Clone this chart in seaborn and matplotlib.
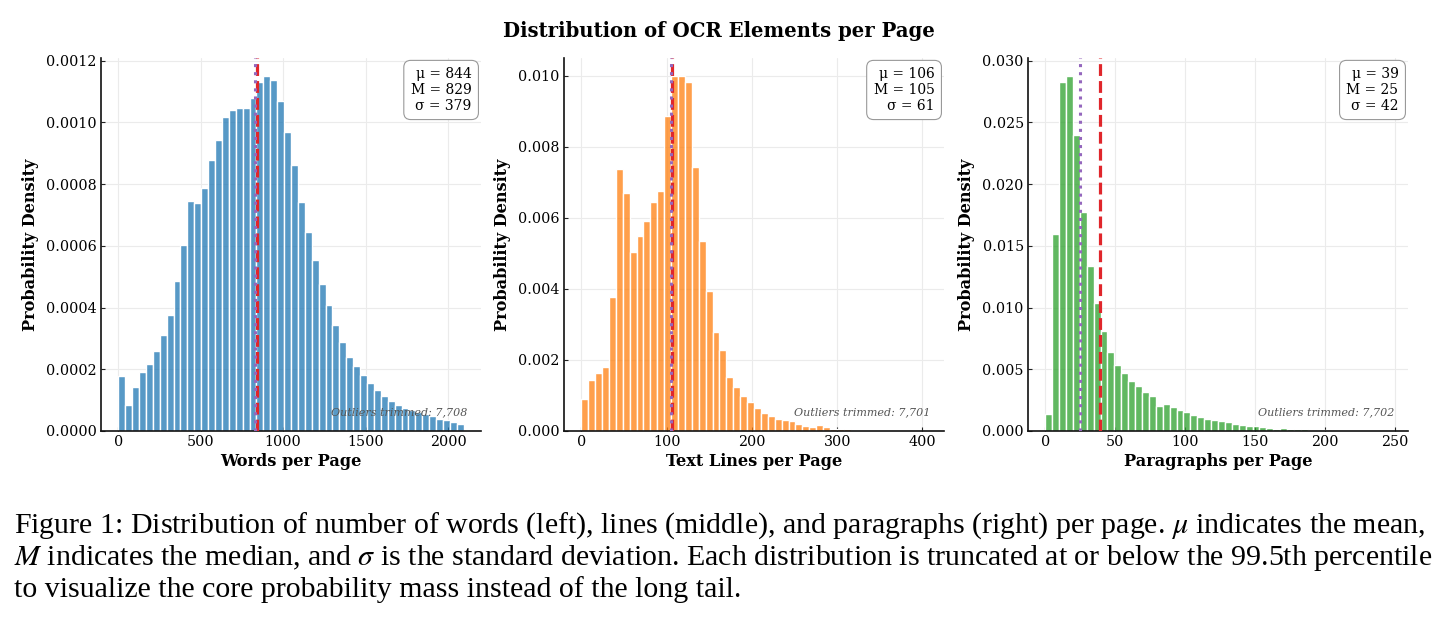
import numpy as np
import pandas as pd
import matplotlib
matplotlib.use("Agg")
import matplotlib.pyplot as plt
import seaborn as sns

# histogram densities (50 bins per panel)
words_density = [0.000179, 0.0000845, 0.000143, 0.000192, 0.000217, 0.000259, 0.000311, 0.000377,
                 0.000486, 0.000602, 0.000745, 0.000739, 0.000787, 0.000878, 0.000943, 0.001016,
                 0.001041, 0.001046, 0.001046, 0.001079, 0.00113, 0.001151, 0.001138, 0.00107,
                 0.00097, 0.000862, 0.000743, 0.000645, 0.000553, 0.000475, 0.000409, 0.000344,
                 0.000289, 0.000241, 0.00021, 0.000181, 0.000156, 0.000133, 0.000114, 0.0000976,
                 0.0000846, 0.0000759, 0.0000672, 0.0000618, 0.0000564, 0.0000488, 0.0000401,
                 0.0000347, 0.0000282, 0.0000238]
lines_density = [0.000913, 0.00144, 0.00162, 0.00181, 0.00377, 0.00737, 0.0067, 0.00505, 0.00548,
                 0.00591, 0.00644, 0.00677, 0.00888, 0.0100, 0.00998, 0.00983, 0.00743, 0.00534,
                 0.00393, 0.0028, 0.00228, 0.00153, 0.00124, 0.000998, 0.000829, 0.000659,
                 0.000518, 0.000424, 0.000348, 0.000311, 0.000273, 0.000207, 0.000151, 0.000122,
                 0.000179, 0.000122, 0.000066, 0.000056, 0.000047, 0.000038, 0.000035, 0.00003,
                 0.000028, 0.000015, 0.00001, 0.000008, 0.000006, 0.000005, 0.000004, 0.000003]
paragraphs_density = [0.00141, 0.01596, 0.02829, 0.02878, 0.02396, 0.01772, 0.01339, 0.01033, 0.0081,
                      0.00642, 0.00534, 0.00466, 0.00409, 0.00363, 0.0032, 0.00282, 0.00201,
                      0.00222, 0.00195, 0.00171, 0.00152, 0.00133, 0.00114, 0.001, 0.00092,
                      0.00079, 0.0007, 0.0006, 0.00051, 0.00043, 0.00038, 0.00033, 0.00024,
                      0.00016, 0.00022, 0.00019, 0.00016, 0.00014, 0.00011, 0.00009, 0.00008,
                      0.00006, 0.00005, 0.00004, 0.00003, 0.00002, 0.00002, 0.00001, 0.00001,
                      0.00001]

value_ranges = [(0, 2095), (0, 405), (0, 247)]
xlabels = ["Words per Page", "Text Lines per Page", "Paragraphs per Page"]
means = [844, 106, 39]
medians = [829, 105, 25]
stds = [379, 61, 42]
outliers = ["7,708", "7,701", "7,702"]
colors = ["#1f77b4", "#ff7f0e", "#2ca02c"]
yticks = [np.arange(0, 0.00121, 0.0002), np.arange(0, 0.0101, 0.002), np.arange(0, 0.0301, 0.005)]
ytick_fmt = ["{:.4f}", "{:.3f}", "{:.3f}"]
xticks = [[0, 500, 1000, 1500, 2000], [0, 100, 200, 300, 400], [0, 50, 100, 150, 200, 250]]

sns.set_theme(style="whitegrid")
plt.rcParams["font.family"] = ["DejaVu Serif"]
plt.rcParams["mathtext.fontset"] = "stix"
plt.rcParams["grid.color"] = "#ebebeb"
plt.rcParams["grid.linewidth"] = 0.8
for key in ["text.color", "axes.labelcolor", "xtick.color", "ytick.color"]:
    plt.rcParams[key] = "black"

fig = plt.figure(figsize=(14.38, 6.21), dpi=100)
lefts = [101 / 1438, 564 / 1438, 1028 / 1438]
axes = [fig.add_axes([l, 1 - 431 / 621, 380 / 1438, 373 / 621]) for l in lefts]

for i, ax in enumerate(axes):
    dens = [words_density, lines_density, paragraphs_density][i]
    lo, hi = value_ranges[i]
    edges = np.linspace(lo, hi, len(dens) + 1)
    df = pd.DataFrame({"value": (edges[:-1] + edges[1:]) / 2, "density": dens})
    sns.histplot(data=df, x="value", weights="density", bins=edges.tolist(), ax=ax,
                 color=colors[i], alpha=0.75, edgecolor="white", linewidth=1.0)
    ax.axvline(means[i], color="#e0262b", linestyle="--", linewidth=2.3, zorder=3)
    ax.axvline(medians[i], color="#9467bd", linestyle=":", linewidth=2.2, zorder=4)

    ax.set_xlabel(xlabels[i], fontsize=11.6, fontweight="bold", labelpad=3)
    ax.set_ylabel("Probability Density", fontsize=11.6, fontweight="bold", labelpad=5)
    ax.set_yticks(yticks[i])
    ax.set_yticklabels([ytick_fmt[i].format(v) for v in yticks[i]])
    ax.set_xticks(xticks[i])
    ax.tick_params(axis="both", labelsize=10.3, direction="in", length=3, width=0.8,
                   color="#222222", pad=3, left=True, bottom=True)
    sns.despine(ax=ax)
    for s in ["left", "bottom"]:
        ax.spines[s].set_color("#111111")
        ax.spines[s].set_linewidth(1.2)

    stats = f"μ = {means[i]}\nM = {medians[i]}\nσ = {stds[i]}"
    ax.text(0.975, 0.975, stats, transform=ax.transAxes, ha="right", va="top", fontsize=10,
            multialignment="right", linespacing=1.15,
            bbox=dict(boxstyle="round,pad=0.5", facecolor="white", edgecolor="#999999",
                      linewidth=0.8))
    ax.text(0.965, 0.05, f"Outliers trimmed: {outliers[i]}", transform=ax.transAxes,
            ha="right", va="center", fontsize=8, style="italic", color="#555555")

fig.text(0.5, 1 - 31 / 621, "Distribution of OCR Elements per Page", ha="center", va="center",
         fontsize=14.1, fontweight="bold")

caption = [
    r"Figure 1: Distribution of number of words (left), lines (middle), and paragraphs (right) per page. $\mu$ indicates the mean,",
    r"$M$ indicates the median, and $\sigma$ is the standard deviation. Each distribution is truncated at or below the 99.5th percentile",
    r"to visualize the core probability mass instead of the long tail.",
]
for k, line in enumerate(caption):
    fig.text(14 / 1438, 1 - (533 + 32 * k) / 621, line, ha="left", va="baseline",
             fontsize=21.5, family=["Liberation Serif"])

fig.savefig("out.png", dpi=100)
